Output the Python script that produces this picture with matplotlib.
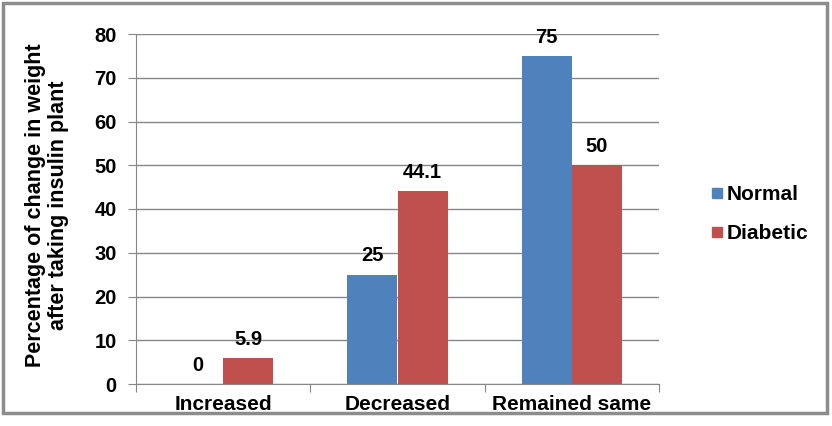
import numpy as np
import matplotlib.pyplot as plt
from matplotlib.patches import Rectangle
from matplotlib.lines import Line2D
import matplotlib.transforms as mtransforms

plt.rcParams['font.family'] = ['Liberation Sans', 'DejaVu Sans']
plt.rcParams['font.weight'] = 'bold'

categories = ['Increased', 'Decreased', 'Remained same']
normal = [0, 25, 75]
diabetic = [5.9, 44.1, 50]
normal_labels = ['0', '25', '75']
diabetic_labels = ['5.9', '44.1', '50']

blue = '#4F81BD'
red = '#C0504D'
grid_c = '#868686'

fig = plt.figure(figsize=(8.32, 4.26), dpi=100)
ax = fig.add_axes([136/832, 1 - 384/426, (659 - 136)/832, (384 - 34)/426])

x = np.arange(len(categories))
w = 0.287
ax.bar(x - w/2, normal, w, color=blue, zorder=3)
ax.bar(x + w/2, diabetic, w, color=red, zorder=3)

for xi, v, s in zip(x, normal, normal_labels):
    ax.annotate(s, (xi - w/2, v), xytext=(0, 9.5), textcoords='offset points',
                ha='center', va='baseline', fontsize=14.5, fontweight='bold')
for xi, v, s in zip(x, diabetic, diabetic_labels):
    ax.annotate(s, (xi + w/2, v), xytext=(0, 9.5), textcoords='offset points',
                ha='center', va='baseline', fontsize=14.5, fontweight='bold')

ax.set_xlim(-0.5, 2.5)
ax.set_ylim(0, 80)
ax.set_yticks(np.arange(0, 81, 10))
ax.yaxis.grid(True, color=grid_c, lw=1, zorder=0)
ax.set_axisbelow(True)

ax.set_xticks([-0.5, 0.5, 1.5, 2.5])
ax.set_xticklabels([])
ax.tick_params(axis='x', length=6, color=grid_c, direction='out')
ax.tick_params(axis='y', length=6, color=grid_c, labelsize=14.5, pad=8)
for t in ax.get_yticklabels():
    t.set_fontweight('bold')

# category names sit just above the outer frame
trans = mtransforms.blended_transform_factory(ax.transData, fig.transFigure)
for xi, c in zip(x, categories):
    ax.text(xi, 1 - 410/426, c, transform=trans, ha='center', va='baseline',
            fontsize=15, fontweight='bold')

for sp in ['top', 'right']:
    ax.spines[sp].set_visible(False)
ax.spines['left'].set_color(grid_c)
ax.spines['bottom'].set_color(grid_c)

fig.text(47/832, 1 - 205/426,
         'Percentage of change in weight\nafter taking insulin plant',
         rotation=90, ha='center', va='center', fontsize=15.5,
         fontweight='bold', linespacing=1.1)

handles = [Line2D([], [], marker='s', ls='none', color=blue, markersize=7.5),
           Line2D([], [], marker='s', ls='none', color=red, markersize=7.5)]
fig.legend(handles, ['Normal', 'Diabetic'], loc='center left',
           bbox_to_anchor=(711/832, 1 - 214/426), frameon=False,
           prop={'size': 15, 'weight': 'bold'}, handletextpad=0.15,
           labelspacing=0.95, handlelength=0.6, borderpad=0, borderaxespad=0)

# outer frame of the chart
fig.patches.append(Rectangle((3/832, 1 - 413/426), 824/832, 410/426,
                             transform=fig.transFigure, fill=False,
                             edgecolor='#8C8C8C', lw=2.5, zorder=11))

fig.savefig('out.png', dpi=100)
